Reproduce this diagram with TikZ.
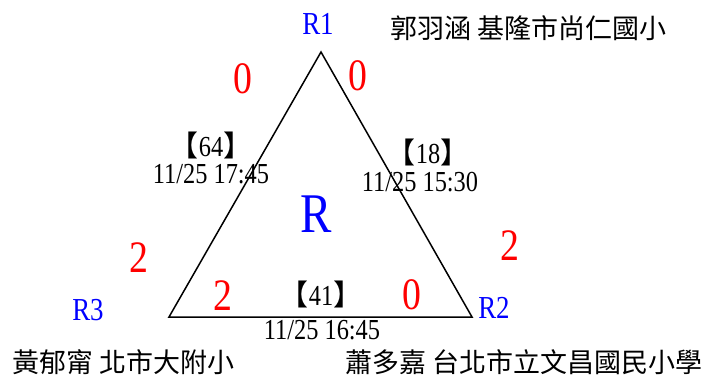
\documentclass[tikz,border=0pt]{standalone}
\usepackage{fontspec}
\setmainfont{Liberation Serif}[FakeStretch=0.84]
\newfontfamily\cjk{Noto Sans CJK TC}
\usetikzlibrary{positioning}

\begin{document}
\begin{tikzpicture}[x=1pt,y=-1pt]
  % pixel grid: 702 x 376, y runs downward
  \useasboundingbox (0,0) rectangle (702,376);
  \tikzset{vtx/.style={text=blue,font=\fontsize{32}{32}\selectfont,inner sep=0pt},
           pts/.style={text=red,font=\fontsize{45}{45}\selectfont,inner sep=0pt},
           num/.style={font=\fontsize{29}{29}\selectfont,inner sep=0pt},
           who/.style={font=\cjk\fontsize{27}{27}\selectfont,anchor=west,inner sep=0pt}}
  % corners of the triangle
  \coordinate (c1) at (321,52);
  \coordinate (c2) at (472,317);
  \coordinate (c3) at (169,317);
  \draw[line width=1.5pt,line join=miter] (c1) -- (c2) -- (c3) -- cycle;
  % corner names
  \node[vtx] (r1) at (318,24)  {R1};
  \node[vtx] (r2) at (494,308) {R2};
  \node[vtx] (r3) at (88,310)  {R3};
  \node[text=blue,font=\fontsize{56}{56}\selectfont,inner sep=0pt] (rr) at (316,214) {R};
  % players
  \node[who] (p1) at (390,28)  {郭羽涵 基隆市尚仁國小};
  \node[who] (p2) at (345,362) {蕭多嘉 台北市立文昌國民小學};
  \node[who] (p3) at (12,362)  {黃郁甯 北市大附小};
  % scores
  \node[pts] (s13) at (243,79)  {0};
  \node[pts] (s12) at (358,76)  {0};
  \node[pts] (s31) at (139,258) {2};
  \node[pts] (s21) at (510,246) {2};
  \node[pts] (s32) at (223,296) {2};
  \node[pts] (s23) at (412,295) {0};
  % games on each side
  \node[num] (g13) at (211,145) {{\cjk 【}64{\cjk 】}};
  \node[num] (t13) at (211,174) {11/25 17:45};
  \node[num] (g12) at (428,152) {{\cjk 【}18{\cjk 】}};
  \node[num] (t12) at (420,182) {11/25 15:30};
  \node[num] (g23) at (321,294) {{\cjk 【}41{\cjk 】}};
  \node[num] (t23) at (322,330) {11/25 16:45};
\end{tikzpicture}
\end{document}
